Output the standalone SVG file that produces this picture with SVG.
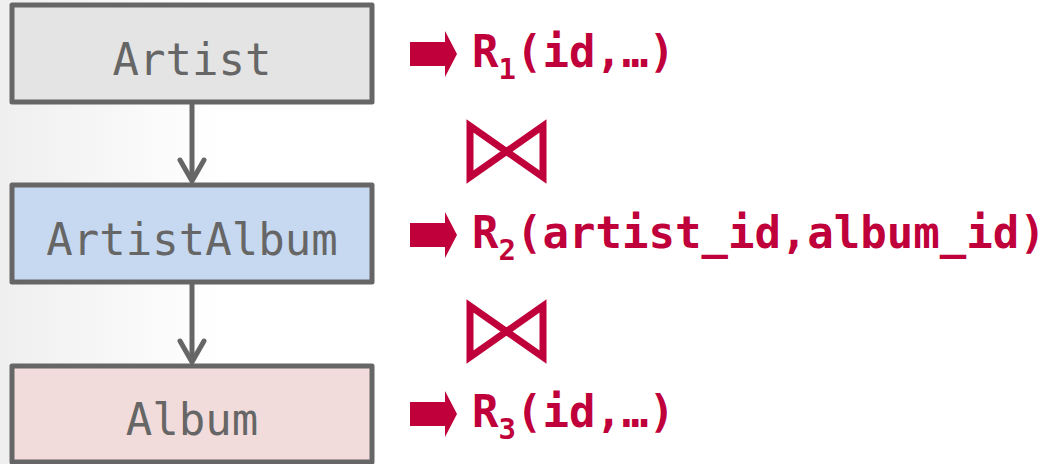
<svg xmlns="http://www.w3.org/2000/svg" width="1052" height="464" viewBox="0 0 1052 464">
<defs>
<linearGradient id="bg" x1="0" y1="0" x2="1" y2="0">
<stop offset="0" stop-color="#efefef"/>
<stop offset="1" stop-color="#ffffff"/>
</linearGradient>
<marker id="ah" viewBox="0 0 30 30" refX="26" refY="15" markerWidth="30" markerHeight="30" markerUnits="userSpaceOnUse" orient="auto">
<path d="M5,3 L26,15 L5,27" fill="none" stroke="#666" stroke-width="5" stroke-linecap="round" stroke-linejoin="round"/>
</marker>
<path id="barrow" d="M0,-12 H35 V-23 L47,0 L35,23 V12 H0 Z"/>
</defs>
<style>
.box{stroke:#666;stroke-width:5;stroke-linejoin:round}
.lbl{font-family:"DejaVu Sans Mono","Liberation Mono",monospace;font-size:44px;fill:#666;text-anchor:middle}
.rel{font-family:"DejaVu Sans Mono","Liberation Mono",monospace;font-weight:bold;font-size:44px;fill:#c0003a}
.sub{font-size:29px}
.conn{stroke:#666;stroke-width:5;fill:none}
.bow{fill:none;stroke:#c0003a;stroke-width:7;stroke-linejoin:miter}
.ra{fill:#c0003a}
</style>
<rect x="0" y="0" width="220" height="464" fill="url(#bg)"/>
<g id="connectors">
<line class="conn" x1="192" y1="103" x2="192" y2="181" marker-end="url(#ah)"/>
<line class="conn" x1="192" y1="284" x2="192" y2="362" marker-end="url(#ah)"/>
</g>
<g id="artist">
<rect class="box" x="12" y="5" width="360" height="97" fill="#e4e4e4"/>
<text class="lbl" x="192" y="75">Artist</text>
</g>
<g id="artistalbum">
<rect class="box" x="12" y="185" width="360" height="97" fill="#c6d9f0"/>
<text class="lbl" x="192" y="255">ArtistAlbum</text>
</g>
<g id="album">
<rect class="box" x="12" y="366" width="360" height="96" fill="#f2dcdb"/>
<text class="lbl" x="192" y="435">Album</text>
</g>
<g id="r1">
<use href="#barrow" class="ra" x="410" y="54"/>
<text class="rel" x="472" y="67">R<tspan class="sub" dy="12">1</tspan><tspan dy="-12">(id,…)</tspan></text>
</g>
<g id="join1">
<path class="bow" d="M470,126 L470,177 L543,126 L543,177 Z"/>
</g>
<g id="r2">
<use href="#barrow" class="ra" x="410" y="235"/>
<text class="rel" x="472" y="248">R<tspan class="sub" dy="12">2</tspan><tspan dy="-12">(artist_id,album_id)</tspan></text>
</g>
<g id="join2">
<path class="bow" d="M470,306 L470,357 L543,306 L543,357 Z"/>
</g>
<g id="r3">
<use href="#barrow" class="ra" x="410" y="414"/>
<text class="rel" x="472" y="427">R<tspan class="sub" dy="12">3</tspan><tspan dy="-12">(id,…)</tspan></text>
</g>
</svg>
